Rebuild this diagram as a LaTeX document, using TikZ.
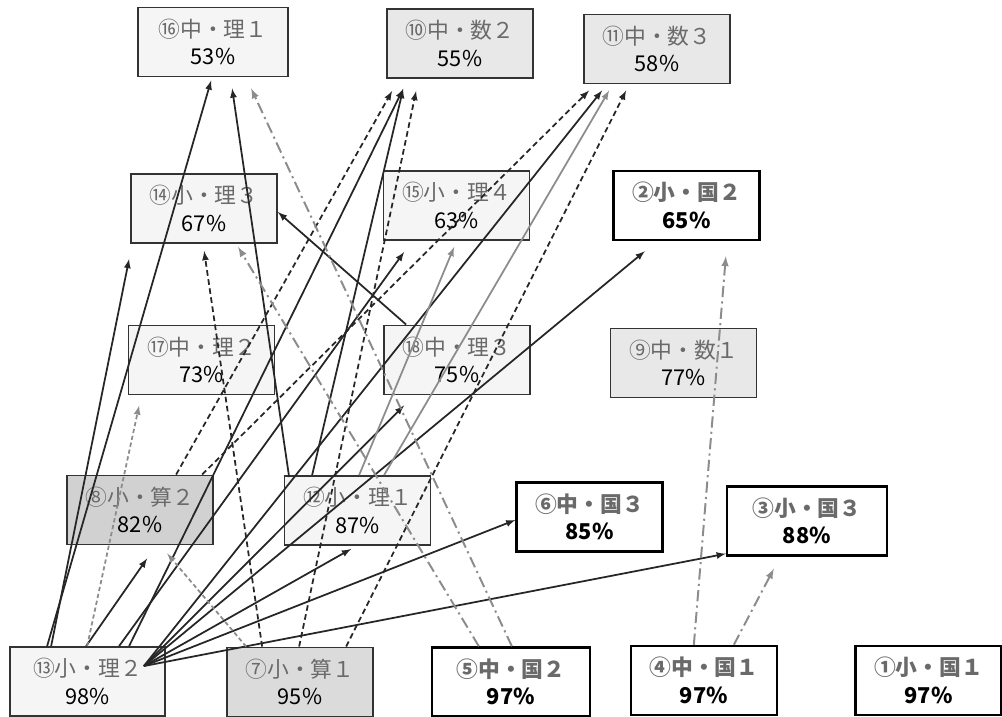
\documentclass[tikz,border=0pt]{standalone}
\usepackage{fontspec}
\newfontfamily\cjk{Noto Sans CJK JP}
\usepackage{tikz}
\usetikzlibrary{
    arrows
  , calc
  , positioning
}
\definecolor{labelgray}{HTML}{6A6A6A}
\definecolor{edgegray}{HTML}{8C8C8C}

\begin{document}
\begin{tikzpicture}[x=0.025cm, y=-0.025cm, >=latex,
  unit/.style={draw=black!80, line width=1.2pt, rectangle, minimum width=3.65cm,
    minimum height=1.73cm, align=center, inner sep=0pt,
    font=\cjk\fontsize{15.5}{19.5}\selectfont},
  stipple/.style={unit, fill=black!4},
  grid/.style={unit, fill=black!9},
  shaded/.style={unit, fill=black!18},
  plain/.style={unit, draw=black, line width=1.6pt, fill=white,
    font=\cjk\bfseries\fontsize{15.5}{19.5}\selectfont},
  link/.style={->, line width=1.25pt, black!85},
  mathlink/.style={link, dash pattern=on 4pt off 2.5pt},
  greylink/.style={link, edgegray},
  greydash/.style={link, edgegray, dash pattern=on 3pt off 2pt},
  jpnlink/.style={link, edgegray, line width=1.4pt, dash pattern=on 8pt off 3pt on 1.5pt off 3pt}
]
  \useasboundingbox (0,0) rectangle (1002,717);
  % Top row
  \node[stipple, minimum width=3.75cm] (jsci1) at (213,42) {{\color{labelgray}⑯中・理１}\\53\%};
  \node[grid] (jmath2) at (460,43.5) {{\color{labelgray}⑩中・数２}\\55\%};
  \node[grid] (jmath3) at (657,49) {{\color{labelgray}⑪中・数３}\\58\%};
  % Second row
  \node[stipple] (esci3) at (204,208.5) {{\color{labelgray}⑭小・理３}\\67\%};
  \node[stipple] (esci4) at (456.5,205.5) {{\color{labelgray}⑮小・理４}\\63\%};
  \node[plain] (ejpn2) at (686.5,205.5) {{\color{labelgray}②小・国２}\\65\%};
  % Third row
  \node[stipple] (jsci2) at (201.5,360) {{\color{labelgray}⑰中・理２}\\73\%};
  \node[stipple] (jsci3) at (457,360) {{\color{labelgray}⑱中・理３}\\75\%};
  \node[grid] (jmath1) at (683.5,363) {{\color{labelgray}⑨中・数１}\\77\%};
  % Fourth row
  \node[shaded] (emath2) at (140,510) {{\color{labelgray}⑧小・算２}\\82\%};
  \node[stipple] (esci1) at (357.5,510.5) {{\color{labelgray}⑫小・理１}\\87\%};
  \node[plain] (jjpn3) at (589.5,517) {{\color{labelgray}⑥中・国３}\\85\%};
  \node[plain, minimum width=4cm] (ejpn3) at (807,521) {{\color{labelgray}③小・国３}\\88\%};
  % Bottom row
  \node[stipple, minimum width=3.875cm] (esci2) at (87.5,681.5) {{\color{labelgray}⑬小・理２}\\98\%};
  \node[unit, fill=black!14] (emath1) at (300,682) {{\color{labelgray}⑦小・算１}\\95\%};
  \node[plain, minimum width=3.95cm] (jjpn2) at (511,682) {{\color{labelgray}⑤中・国２}\\97\%};
  \node[plain] (jjpn1) at (704,680.5) {{\color{labelgray}④中・国１}\\97\%};
  \node[plain] (ejpn1) at (928.5,680.5) {{\color{labelgray}①小・国１}\\97\%};
  % Arrows from 13
  \draw[link] ($(esci2.north west)+(38,0)$) -- ($(jsci1.south west)+(74,3)$);
  \draw[link] ($(esci2.north west)+(42,0)$) -- ($(esci3.south west)+(-1,15)$);
  \draw[link] ($(esci2.north west)+(77,0)$) -- ($(emath2.south west)+(81,13)$);
  \draw[greydash] ($(esci2.north west)+(78,0)$) -- ($(jsci2.south west)+(11.5,10)$);
  \draw[link] ($(esci2.north west)+(120,0)$) -- ($(jmath2.south west)+(17,10)$);
  \draw[link] ($(esci2.north west)+(110,0)$) -- ($(esci4.south west)+(21.5,11)$);
  \draw[link] ($(esci2.north east)+(-22,20)$) -- ($(jmath3.south west)+(19,6)$);
  \draw[link] ($(esci2.north east)+(-22,20)$) -- ($(jsci3.south west)+(21,10)$);
  \draw[link] ($(esci2.north east)+(-22,20)$) -- ($(ejpn2.south west)+(32.5,10)$);
  \draw[link] ($(esci2.north east)+(-22,20)$) -- ($(esci1.south west)+(67.5,3)$);
  \draw[link] ($(esci2.north east)+(-22,20)$) -- ($(jjpn3.west)+(0,3)$);
  \draw[link] ($(esci2.north east)+(-22,20)$) -- ($(ejpn3.south west)+(0,-3)$);
  % Arrows from 12 and 18
  \draw[link] ($(esci1.north west)+(5.5,2)$) -- ($(jsci1.south west)+(95,11)$);
  \draw[link] ($(esci1.north west)+(28.5,0)$) -- ($(jmath2.south west)+(17,10)$);
  \draw[greylink] ($(esci1.north west)+(75.5,0)$) -- ($(esci4.south west)+(71.5,6)$);
  \draw[greylink] ($(esci1.north west)+(100.5,0)$) -- ($(jmath3.south west)+(26,6)$);
  \draw[link] ($(jsci3.north west)+(23,0)$) -- ($(esci3.east)+(0,3.5)$);
  % Math arrows
  \draw[mathlink] ($(emath1.north west)+(36,0)$) -- ($(esci3.south west)+(74,7)$);
  \draw[mathlink] ($(emath1.north west)+(73,0)$) -- ($(jmath2.south west)+(30,12)$);
  \draw[mathlink] ($(emath1.north west)+(120,0)$) -- ($(jmath3.south west)+(43,6)$);
  \draw[mathlink] ($(emath2.north west)+(110,0)$) -- ($(jmath2.south west)+(6,12)$);
  \draw[mathlink] ($(emath2.north west)+(136,0)$) -- ($(jmath3.south west)+(6,6)$);
  \draw[greydash] ($(emath1.north west)+(20,0)$) -- ($(emath2.south west)+(101,8)$);
  % Japanese arrows
  \draw[jpnlink] ($(jjpn2.north west)+(81,0)$) -- ($(jsci1.south west)+(114,11)$);
  \draw[jpnlink] ($(jjpn2.north west)+(48,0)$) -- ($(esci3.south west)+(108,3)$);
  \draw[jpnlink] ($(jjpn1.north west)+(64,0)$) -- ($(ejpn2.south west)+(113.5,15)$);
  \draw[jpnlink] ($(jjpn1.north west)+(104,0)$) -- ($(ejpn3.south west)+(48,12)$);
\end{tikzpicture}
\end{document}
